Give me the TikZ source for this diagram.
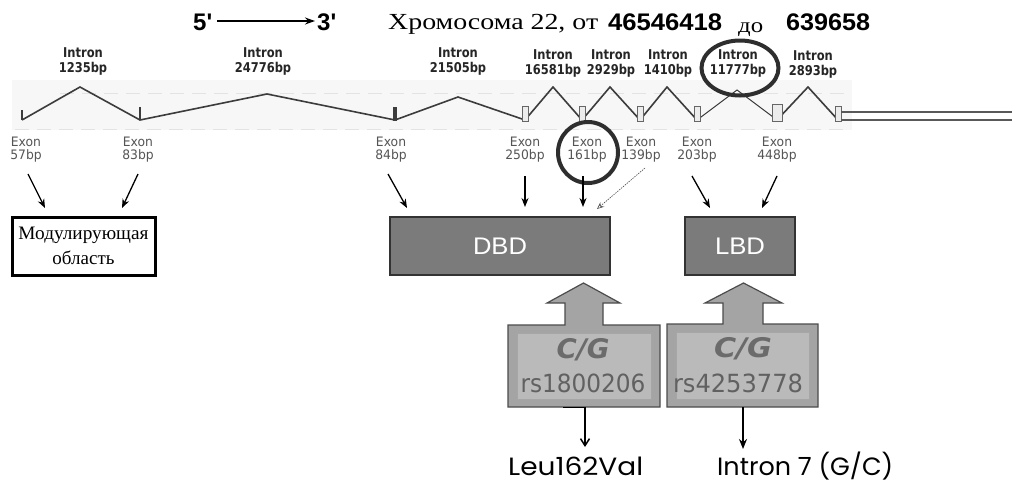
\documentclass[tikz,border=0pt]{standalone}
\usepackage{fontspec}
\usepackage{graphicx}
\usetikzlibrary{arrows.meta,shapes.geometric}
\setmainfont{Liberation Serif}
\newfontfamily\titlesans[Ligatures=TeXOff]{Liberation Sans}
\newfontfamily\intronfont[FakeStretch=0.85]{DejaVu Sans}
\newfontfamily\exonfont[FakeStretch=0.95]{DejaVu Sans}
\newfontfamily\geofont{Poppins}
\newfontfamily\cgfont{DejaVu Sans}
\newcommand\fitw[2]{\resizebox{#1}{\height}{#2}}
\definecolor{dbdgray}{HTML}{7B7B7B}
\definecolor{darkline}{HTML}{333333}
\definecolor{blockgray}{HTML}{A4A4A4}
\definecolor{blockin}{HTML}{BABABA}
\definecolor{txtgray}{HTML}{555555}
\definecolor{linegray}{HTML}{3C3C3C}
\definecolor{ringgray}{HTML}{2E2E2E}
\tikzset{
  intronlbl/.style={font=\intronfont\bfseries\fontsize{13.5}{15}\selectfont, text=black!85, align=center, inner sep=0pt},
  exonlbl/.style={font=\exonfont\fontsize{13}{13}\selectfont, text=txtgray, align=center, inner sep=0pt},
  arr/.style={-{Stealth[length=9pt,width=7pt]}, line width=1.3pt, black},
  thinarr/.style={-{Stealth[open,length=7pt,width=6pt]}, line width=0.6pt, dash pattern=on 1.5pt off 1pt, black!70},
  intronline/.style={line width=1.6pt, linegray, line join=miter},
  exonbox/.style={draw=black!60, fill=gray!15, line width=0.8pt, inner sep=0pt, minimum width=6pt, minimum height=15pt},
  ring/.style={ellipse, draw=ringgray, line width=4pt, inner sep=0pt},
  domainbox/.style={draw=darkline, fill=dbdgray, line width=1.5pt, inner sep=0pt, minimum height=58pt, text=white, font=\titlesans\fontsize{24}{28}\selectfont},
  modbox/.style={draw=black, fill=white, line width=3pt, inner sep=0pt, minimum width=143pt, minimum height=58pt, align=center, font=\fontsize{19}{25}\selectfont},
  blockarrow/.style={draw=black!70, fill=blockgray, line width=1.2pt, line join=miter},
  blockinner/.style={draw=black!35, fill=blockin, line width=0.8pt},
  cglbl/.style={inner sep=0pt, text=black!58, font=\cgfont\bfseries\itshape\fontsize{27}{30}\selectfont},
  rslbl/.style={inner sep=0pt, text=black!62, font=\cgfont\fontsize{25}{28}\selectfont},
  bottomlbl/.style={anchor=base west, inner sep=0pt, text=black, font=\geofont\fontsize{25}{30}\selectfont}
}
\begin{document}
\begin{tikzpicture}[x=1pt,y=-1pt]
\useasboundingbox (0,0) rectangle (1012,482);
\fill[white] (0,0) rectangle (1012,482);

% ---------- title ----------
\node[anchor=base west, inner sep=0pt, font=\titlesans\bfseries\fontsize{24}{28}\selectfont] (five) at (193,30) {5'};
\node[anchor=base west, inner sep=0pt, font=\titlesans\bfseries\fontsize{24}{28}\selectfont] (three) at (317,30) {3'};
\coordinate (arrS) at (217,21);
\coordinate (arrE) at (315,21);
\draw[-{Stealth[length=10pt,width=7pt]}, line width=1.4pt] (arrS) -- (arrE);
\node[anchor=base west, inner sep=0pt] (chr) at (388,29) {\fitw{210pt}{\fontsize{23}{26}\selectfont Хромосома 22, от}};
\node[anchor=base west, inner sep=0pt] (from) at (608,30) {\fitw{114pt}{\titlesans\bfseries\fontsize{24}{28}\selectfont 46546418}};
\node[anchor=base west, inner sep=0pt] (to) at (738,32) {\fitw{25pt}{\fontsize{21}{26}\selectfont до}};
\node[anchor=base west, inner sep=0pt] (till) at (786,30) {\fitw{84pt}{\titlesans\bfseries\fontsize{24}{28}\selectfont 639658}};

% ---------- gene band ----------
\fill[gray!6] (12,80) rectangle (852,130);
\draw[gray!22, line width=0.6pt, dash pattern=on 14pt off 8pt] (60,93) -- (850,93);
\draw[gray!22, line width=0.6pt, dash pattern=on 14pt off 8pt] (15,129) -- (850,129);

% intron labels
\node[intronlbl] (i1) at (83,61) {Intron\\1235bp};
\node[intronlbl] (i2) at (263,61) {Intron\\24776bp};
\node[intronlbl] (i3) at (458,61) {Intron\\21505bp};
\node[intronlbl] (i4) at (553,63) {Intron\\16581bp};
\node[intronlbl] (i5) at (611,63) {Intron\\2929bp};
\node[intronlbl] (i6) at (668,63) {Intron\\1410bp};
\node[intronlbl] (i7) at (738,63) {Intron\\11777bp};
\node[intronlbl] (i8) at (813,64) {Intron\\2893bp};

% exon and peak coordinates
\coordinate (x1) at (22,120);
\coordinate (x2) at (140,120);
\coordinate (x3) at (395,120);
\coordinate (x4) at (525,120);
\coordinate (x5) at (582,120);
\coordinate (x6) at (640,120);
\coordinate (x7) at (697,120);
\coordinate (x8) at (777,120);
\coordinate (x9) at (838,120);
\coordinate (p1) at (80,87);
\coordinate (p2) at (267,94);
\coordinate (p3) at (458,97);
\coordinate (p4) at (553,87);
\coordinate (p5) at (610,87);
\coordinate (p6) at (667,87);
\coordinate (p7) at (737,90);
\coordinate (p8) at (808,87);

\draw[intronline] (x1) -- (p1) -- (x2) -- (p2) -- (x3) -- (p3) -- (x4) -- (p4) -- (x5) -- (p5) -- (x6) -- (p6) -- (x7);
\draw[line width=1pt, linegray] (x7) -- (p7) -- (x8);
\draw[intronline] (x8) -- (p8) -- (x9);

% exons
\draw[line width=1.6pt, linegray] (22,110) -- (x1);
\draw[line width=1.6pt, linegray] (140,107) -- (x2);
\fill[linegray] (393.3,107) rectangle (396.7,121);
\node[exonbox] (e4) at (525,113.5) {};
\node[exonbox] (e5) at (582,113.5) {};
\node[exonbox] (e6) at (640,113.5) {};
\node[exonbox] (e7) at (697,113.5) {};
\node[exonbox, minimum width=10pt, minimum height=17pt] (e8) at (777,112.5) {};
\node[exonbox] (e9) at (838,113.5) {};
% 3' tail
\coordinate (tailA) at (841,112);
\coordinate (tailB) at (841,120);
\coordinate (tailC) at (1012,112);
\coordinate (tailD) at (1012,120);
\draw[line width=1.2pt, black!65] (tailA) -- (tailC);
\draw[line width=1.2pt, black!65] (tailB) -- (tailD);

% exon labels
\node[exonlbl] (l57) at (26,150) {Exon\\57bp};
\node[exonlbl] (l83) at (138,150) {Exon\\83bp};
\node[exonlbl] (l84) at (391,150) {Exon\\84bp};
\node[exonlbl] (l250) at (525,150) {Exon\\250bp};
\node[exonlbl] (l161) at (587,150) {Exon\\161bp};
\node[exonlbl] (l139) at (641,150) {Exon\\139bp};
\node[exonlbl] (l203) at (697,150) {Exon\\203bp};
\node[exonlbl] (l448) at (777,150) {Exon\\448bp};

% rings
\node[ring, minimum width=77pt, minimum height=55pt] (ringI) at (740,68) {};
\node[ring, minimum width=60pt, minimum height=61pt] (ringE) at (588,152.5) {};

% ---------- domain boxes ----------
\node[modbox] (mod) at (83.5,246) {\fitw{130pt}{Модулирующая}\\область};
\node[domainbox, minimum width=220pt] (dbd) at (500,246) {\fitw{54pt}{DBD}};
\node[domainbox, minimum width=110pt] (lbd) at (740,246) {\fitw{50pt}{LBD}};

% exon -> domain arrows
\coordinate (s57) at (28,174);   \coordinate (t57) at (45,208);
\coordinate (s83) at (138,174);  \coordinate (t83) at (122,208);
\coordinate (s84) at (388,174);  \coordinate (t84) at (407,208);
\coordinate (s250) at (525,176); \coordinate (t250) at (525,207);
\coordinate (s161) at (583,176); \coordinate (t161) at (583,207);
\coordinate (s139) at (645,168); \coordinate (t139) at (597,209);
\coordinate (s203) at (692,176); \coordinate (t203) at (710,208);
\coordinate (s448) at (777,176); \coordinate (t448) at (762,208);
\draw[arr] (s57) -- (t57);
\draw[arr] (s83) -- (t83);
\draw[arr] (s84) -- (t84);
\draw[arr] (s250) -- (t250);
\draw[arr] (s161) -- (t161);
\draw[thinarr] (s139) -- (t139);
\draw[arr] (s203) -- (t203);
\draw[arr] (s448) -- (t448);

% ---------- SNP block arrows ----------
\draw[blockarrow] (508,325) -- (565,325) -- (565,303) -- (547,303) -- (583.5,283) -- (620,303) -- (603,303) -- (603,325) -- (660,325) -- (660,407) -- (508,407) -- cycle;
\draw[blockinner] (517,333) rectangle (651,399);
\draw[blockarrow] (667,324) -- (723,324) -- (723,303) -- (705,303) -- (743.5,283) -- (782,303) -- (763,303) -- (763,324) -- (818,324) -- (818,407) -- (667,407) -- cycle;
\draw[blockinner] (676,332) rectangle (809,399);

\node[cglbl] (cg1) at (583,350) {\fitw{53pt}{C/G}};
\node[rslbl] (rs1) at (583,383) {\fitw{125pt}{rs1800206}};
\node[cglbl] (cg2) at (743,349) {\fitw{58pt}{C/G}};
\node[rslbl] (rs2) at (738,383) {\fitw{130pt}{rs4253778}};

% down arrows
\coordinate (d1s) at (563,407.5);
\coordinate (d1e) at (585,447);
\draw[line width=1.5pt, -{Straight Barb[length=7pt,width=9pt]}] (d1s) -| (d1e);
\coordinate (d2s) at (743,407);
\coordinate (d2e) at (743,449);
\draw[line width=2pt, -{Stealth[length=10pt,width=8pt]}] (d2s) -- (d2e);

\node[bottomlbl] (leu) at (508,475) {\fitw{135pt}{Leu162Val}};
\node[bottomlbl] (int7) at (717,475) {\fitw{176pt}{Intron 7 (G/C)}};
\end{tikzpicture}
\end{document}
